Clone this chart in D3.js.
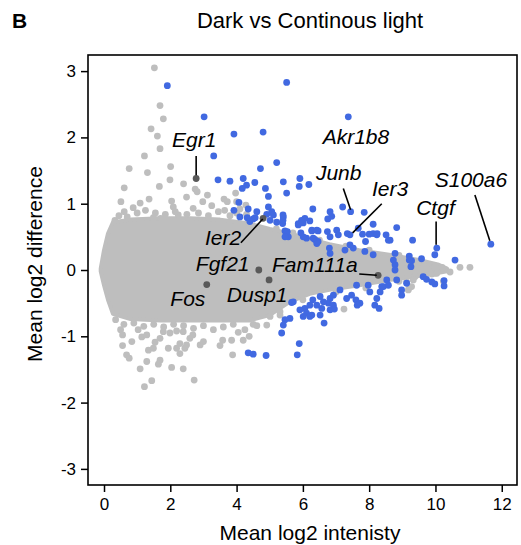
<!DOCTYPE html>
<html>
<head>
<meta charset="utf-8">
<script src="https://cdn.jsdelivr.net/npm/d3@7"></script>
<style>
  body { margin: 0; background: #fff; }
  text { font-family: "Liberation Sans", Arial, sans-serif; fill: #000; }
  .tick text { font-size: 17px; }
  .tick line { stroke: #000; stroke-width: 1.5; }
  .gene { font-size: 21px; font-style: italic; }
</style>
</head>
<body>
<svg width="521" height="545"></svg>
<script>
// dense middle of the cloud, read as an envelope (x, upper, lower)
const coreX =     [-0.1, 0,     0.12,  0.27,  0.8,   1.7,   2.6,   3.5,   4.4,   5.0,   5.6,   6.2,   6.8,  7.7,   8.6,   9.5,   10.1,  10.35]
const coreUpper = [0.02, 0.30,  0.55,  0.72,  0.76,  0.78,  0.78,  0.76,  0.70,  0.62,  0.55,  0.47,  0.39, 0.30,  0.23,  0.15,  0.08,  0.02]
const coreLower = [-0.02, -0.23, -0.45, -0.66, -0.74, -0.76, -0.76, -0.76, -0.76, -0.68, -0.48, -0.36, -0.3, -0.23, -0.15, -0.09, -0.04, -0.02]

// genes outside the dense middle, not significant
const grayPoints = [
  [1.52, 3.05], [1.69, 2.48], [1.79, 2.28], [1.42, 2.13], [1.61, 2.02], [1.69, 1.83], [1.22, 1.72],
  [2.01, 1.56], [0.76, 1.53], [1.31, 1.47], [1.99, 1.36], [2.40, 1.30], [1.67, 1.26], [0.61, 1.24],
  [2.75, 1.22], [2.81, 1.18], [3.97, 1.16], [1.36, 1.07], [2.49, 1.10], [2.04, 1.04], [3.12, 1.13],
  [0.51, 1.03], [3.62, 1.07], [3.72, 1.03], [2.98, 1.03], [3.25, 0.97], [0.88, 0.94], [1.09, 1.01],
  [2.09, 0.95], [0.61, 0.88], [2.69, 0.93], [3.64, 0.90], [1.49, 0.79], [1.71, 0.78], [2.24, 0.83],
  [0.33, 0.75], [4.00, 0.86], [4.00, 1.03], [4.28, 0.98],
  [0.45, 0.82], [0.70, 0.80], [1.00, 0.86], [1.25, 0.90], [1.55, 0.86], [1.85, 0.84], [2.15, 0.88],
  [2.50, 0.84], [2.85, 0.86], [3.15, 0.82], [3.45, 0.88], [3.80, 0.82], [4.10, 0.92], [4.30, 0.84],
  [5.2, 0.62], [5.7, 0.56], [6.5, 0.45], [7.3, 0.36], [8.0, 0.30], [8.9, 0.22],
  [9.73, 0.05], [9.98, 0.05], [9.98, -0.05], [10.44, -0.03], [10.74, 0.04], [11.04, 0.04], [9.38, -0.10],
  [9.33, -0.15], [9.23, -0.26], [9.89, -0.06], [10.24, -0.17], [9.13, -0.18], [9.28, -0.25], [9.18, -0.30],
  [10.04, -0.05], [9.0, 0.1], [9.3, 0.08], [9.5, 0.12], [9.6, 0.02], [10.2, 0.04],
  [0.50, -0.90], [0.56, -0.98], [0.84, -1.08], [0.56, -1.14], [1.03, -0.90], [1.14, -1.01], [1.29, -0.98],
  [1.34, -1.21], [1.49, -1.18], [1.69, -1.03], [1.54, -1.09], [0.68, -1.28], [0.76, -1.33], [1.29, -1.38],
  [1.09, -1.49], [1.69, -1.36], [1.64, -1.42], [2.04, -1.47], [2.39, -1.49], [1.44, -1.67], [1.22, -1.76],
  [2.72, -1.66], [1.94, -1.18], [2.19, -1.18], [2.29, -1.26], [2.44, -1.18], [2.59, -1.03], [2.68, -0.98],
  [2.90, -1.13], [3.00, -1.08], [3.50, -1.14], [3.58, -1.06], [3.88, -1.28], [3.85, -1.06], [4.20, -1.06],
  [4.38, -1.00], [1.79, -0.93], [1.99, -0.95], [2.19, -0.92], [2.39, -0.93], [2.29, -1.11], [2.49, -1.13],
  [4.05, -0.94], [4.25, -0.90], [4.61, -0.84], [4.91, -0.83], [5.31, -0.63], [5.01, -0.70], [5.31, -0.68],
  [7.24, -0.59],
  [0.35, -0.75], [0.60, -0.82], [0.90, -0.80], [1.20, -0.85], [1.50, -0.82], [1.80, -0.86], [2.10, -0.82],
  [2.40, -0.84], [2.70, -0.88], [3.00, -0.84], [3.30, -0.90], [3.60, -0.86], [3.90, -0.82], [4.50, -0.82],
  [6.0, -0.45], [7.0, -0.33], [7.9, -0.27], [8.9, -0.17]
]

// significant genes
const bluePoints = [
  [1.91, 2.78], [5.51, 2.83], [3.02, 2.31], [7.37, 2.31], [3.92, 2.05], [4.80, 2.08], [3.31, 1.72],
  [4.72, 1.53], [5.21, 1.62], [3.44, 1.36], [3.80, 1.34], [4.20, 1.38], [4.55, 1.32], [4.30, 1.28],
  [4.17, 1.23], [4.87, 1.23], [5.41, 1.33], [5.51, 1.16], [4.96, 1.11], [4.07, 1.02], [3.92, 0.90],
  [4.35, 0.92], [4.10, 0.80], [4.32, 0.79], [4.50, 0.77], [4.61, 0.88], [4.91, 0.84], [5.06, 0.88],
  [4.96, 0.95], [4.56, 0.79], [4.40, 0.73], [5.01, 0.75], [5.21, 0.72], [5.41, 0.80], [5.39, 0.70],
  [5.11, 0.83], [5.46, 0.59], [5.56, 0.50], [5.91, 1.38], [6.18, 1.29], [5.89, 1.26], [6.30, 0.92],
  [6.82, 0.88], [7.20, 0.95], [7.44, 0.88], [7.85, 0.87], [6.75, 0.77], [6.87, 0.81], [6.21, 0.74],
  [6.01, 0.71], [5.86, 0.68], [6.06, 0.78], [6.27, 0.59], [6.46, 0.59], [5.94, 0.56], [6.11, 0.48],
  [6.01, 0.50], [6.36, 0.46], [6.46, 0.43], [6.42, 0.40], [6.74, 0.58], [7.02, 0.60], [7.07, 0.53],
  [6.82, 0.50], [7.34, 0.55], [7.42, 0.53], [7.67, 0.63], [8.12, 0.69], [8.00, 0.54], [8.23, 0.53],
  [8.51, 0.53], [8.63, 0.45], [8.83, 0.64], [7.27, 0.30], [7.42, 0.38], [7.52, 0.33], [7.89, 0.43],
  [7.87, 0.28], [8.12, 0.23], [6.80, 0.33], [6.82, 0.25], [8.78, 0.25], [8.78, 0.08], [8.73, 0.15],
  [7.62, -0.23], [8.53, -0.15], [8.43, -0.25], [8.58, -0.23], [8.83, -0.15], [9.13, -0.20], [9.31, 0.45],
  [10.04, 0.33], [9.98, 0.23], [9.21, 0.21], [9.28, 0.14], [9.58, 0.17], [10.59, 0.15], [11.67, 0.39],
  [9.63, -0.10], [9.73, -0.14], [9.89, -0.18], [9.98, -0.21], [10.26, -0.16], [10.26, -0.24], [8.38, -0.25],
  [8.33, -0.33], [8.98, -0.30], [8.98, -0.38], [7.97, -0.23], [8.02, -0.33], [7.47, -0.38], [7.60, -0.45],
  [7.32, -0.43], [7.72, -0.50], [7.64, -0.53], [8.23, -0.43], [8.17, -0.53], [8.30, -0.58], [7.12, -0.30],
  [6.92, -0.38], [6.82, -0.43], [6.77, -0.50], [6.92, -0.53], [6.82, -0.60], [6.95, -0.59], [6.52, -0.40],
  [6.62, -0.48], [6.42, -0.53], [6.57, -0.58], [6.30, -0.45], [6.21, -0.53], [6.06, -0.58], [5.91, -0.60],
  [6.11, -0.65], [6.27, -0.68], [6.01, -0.70], [6.21, -0.70], [6.52, -0.68], [6.64, -0.80], [5.71, -0.48],
  [5.66, -0.49], [5.61, -0.73], [5.46, -0.75], [5.41, -0.83], [5.36, -0.95], [5.89, -1.11], [5.83, -1.28],
  [4.35, -1.25], [4.50, -1.27], [4.89, -1.29], [9.21, 0.15], [9.26, 0.05], [8.78, 0.00], [8.12, 0.55],
  [8.24, 0.55], [7.80, 0.54], [6.31, 0.48], [6.27, 0.60], [6.42, 0.60], [5.40, 0.83], [5.40, 0.75],
  [5.53, 0.58], [5.46, 0.50], [5.86, 0.70], [5.96, 0.75], [8.58, 0.45]
]

// highlighted, not significant
const darkPoints = [[2.78, 1.38], [4.80, 0.78], [4.67, 0.00], [4.98, -0.15], [3.10, -0.22], [8.27, -0.08]]

const labels = ['Egr1', 'Akr1b8', 'Junb', 'Ier3', 'S100a6', 'Ctgf', 'Ier2', 'Fgf21', 'Fam111a', 'Dusp1', 'Fos']
const labelPos = [[2.72, 1.85], [7.6, 1.90], [7.08, 1.36], [8.63, 1.12], [11.07, 1.25], [10.0, 0.83],
  [3.59, 0.38], [3.58, -0.01], [6.36, -0.03], [4.62, -0.49], [2.53, -0.54]]
const leaders = [[2.78, 1.72, 2.78, 1.43], [7.22, 1.23, 7.44, 0.91], [8.38, 1.0, 7.5, 0.56],
  [11.19, 1.13, 11.64, 0.44], [10.02, 0.73, 10.02, 0.38], [4.13, 0.41, 4.79, 0.77], [7.70, -0.06, 8.23, -0.08]]

const xTicks = [0, 2, 4, 6, 8, 10, 12]
const yTicks = [-3, -2, -1, 0, 1, 2, 3]

const svg = d3.select('svg')
const width = +svg.attr('width')
const height = +svg.attr('height')
const margin = { top: 55, right: 4, bottom: 60, left: 88 }
const innerWidth = width - margin.left - margin.right
const innerHeight = height - margin.top - margin.bottom

const xScale = d3.scaleLinear().domain([-0.483, 12.46]).range([0, innerWidth])
const yScale = d3.scaleLinear().domain([-3.243, 3.243]).range([innerHeight, 0])

const g = svg.append('g')
  .attr('transform', `translate(${margin.left}, ${margin.top})`)

const r = 3.4

g.append('path')
  .datum(coreX.map((x, i) => ({ x, hi: coreUpper[i], lo: coreLower[i] })))
  .attr('fill', '#bebebe')
  .attr('stroke', '#bebebe')
  .attr('stroke-width', 4)
  .attr('stroke-linejoin', 'round')
  .attr('d', d3.area()
    .x(d => xScale(d.x))
    .y0(d => yScale(d.lo))
    .y1(d => yScale(d.hi)))

g.selectAll('.gray').data(grayPoints)
  .enter().append('circle')
  .attr('class', 'gray')
  .attr('cx', d => xScale(d[0]))
  .attr('cy', d => yScale(d[1]))
  .attr('r', r)
  .attr('fill', '#bebebe')

g.selectAll('.blue').data(bluePoints)
  .enter().append('circle')
  .attr('class', 'blue')
  .attr('cx', d => xScale(d[0]))
  .attr('cy', d => yScale(d[1]))
  .attr('r', r)
  .attr('fill', '#4169e1')

g.selectAll('.dark').data(darkPoints)
  .enter().append('circle')
  .attr('class', 'dark')
  .attr('cx', d => xScale(d[0]))
  .attr('cy', d => yScale(d[1]))
  .attr('r', r)
  .attr('fill', '#595959')

g.selectAll('.leader').data(leaders)
  .enter().append('line')
  .attr('x1', d => xScale(d[0]))
  .attr('y1', d => yScale(d[1]))
  .attr('x2', d => xScale(d[2]))
  .attr('y2', d => yScale(d[3]))
  .attr('stroke', '#000')
  .attr('stroke-width', 1.6)

g.selectAll('.gene').data(labels)
  .enter().append('text')
  .attr('class', 'gene')
  .attr('x', (d, i) => xScale(labelPos[i][0]))
  .attr('y', (d, i) => yScale(labelPos[i][1]))
  .attr('text-anchor', 'middle')
  .text(d => d)

// axes
const xAxisGroup = g.append('g')
  .attr('transform', `translate(0, ${innerHeight})`)
  .call(d3.axisBottom(xScale).tickValues(xTicks).tickFormat(d3.format('d')).tickSize(7).tickPadding(6))
xAxisGroup.select('.domain').remove()

const yAxisGroup = g.append('g')
  .call(d3.axisLeft(yScale).tickValues(yTicks).tickFormat(d3.format('d')).tickSize(7).tickPadding(5))
yAxisGroup.select('.domain').remove()
yAxisGroup.selectAll('text').text(d => String(d))

g.append('rect')
  .attr('width', innerWidth)
  .attr('height', innerHeight)
  .attr('fill', 'none')
  .attr('stroke', '#000')
  .attr('stroke-width', 1.6)

svg.append('text')
  .attr('x', 310)
  .attr('y', 540)
  .attr('text-anchor', 'middle')
  .style('font-size', '21px')
  .text('Mean log2 intenisty')

svg.append('text')
  .attr('transform', 'translate(42, 264) rotate(-90)')
  .attr('text-anchor', 'middle')
  .style('font-size', '21px')
  .text('Mean log2 difference')

svg.append('text')
  .attr('x', 310)
  .attr('y', 28)
  .attr('text-anchor', 'middle')
  .style('font-size', '22px')
  .text('Dark vs Continous light')

svg.append('text')
  .attr('x', 12)
  .attr('y', 28)
  .style('font-size', '21px')
  .style('font-weight', 'bold')
  .text('B')
</script>
</body>
</html>
